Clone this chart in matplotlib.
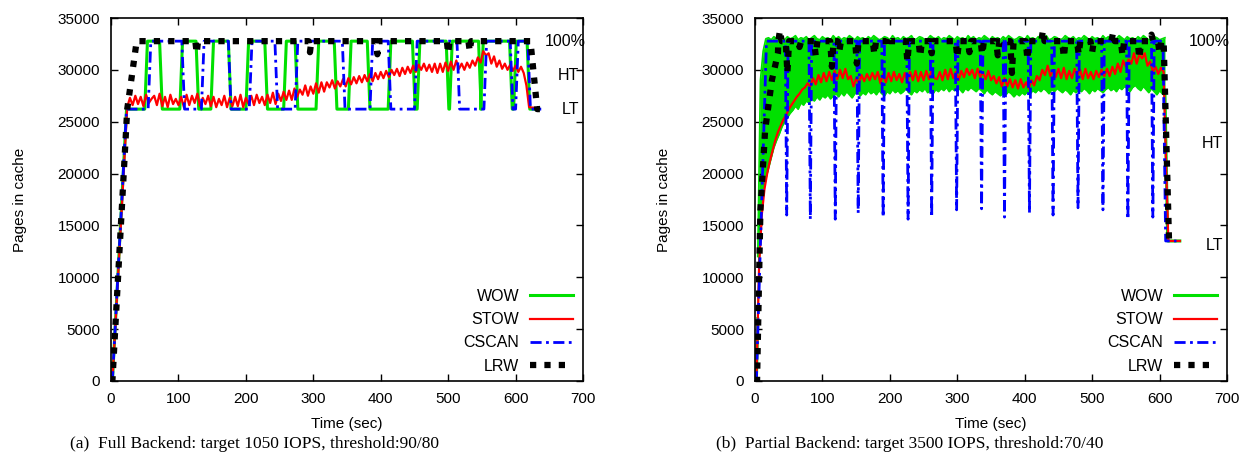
import numpy as np
import matplotlib
matplotlib.use("Agg")
import matplotlib.pyplot as plt

plt.rcParams['font.family'] = ['Liberation Sans', 'DejaVu Sans']

FULL = 32768              # 100% of the cache (pages)
HT_A, LT_A = 29491, 26214  # 90 / 80
HT_B, LT_B = 22938, 13107  # 70 / 40

# ---------------- panel (a): full backend ----------------
# WOW / CSCAN are square waves between LT and 100%: (start of high, end of high) in sec
wow_a_up = [50, 102, 148, 200, 256, 304, 352, 411, 454, 502, 548, 597]
wow_a_down = [72, 126, 174, 228, 273, 331, 380, 447, 497, 545, 591, 617]
cscan_a_up = [55, 134, 205, 273, 384, 450, 553, 600]
cscan_a_down = [105, 174, 243, 343, 411, 513, 592, 618]

# STOW, hundreds of pages, every 4 s from t=24
stow_a_t0, stow_a_dt = 24, 4
stow_a = [264, 273, 266, 275, 267, 274, 265, 276, 268, 272,
          275, 266, 277, 265, 274, 264, 276, 267, 272, 266,
          274, 264, 276, 266, 275, 268, 277, 265, 273, 267,
          275, 265, 274, 264, 272, 266, 275, 264, 273, 265,
          274, 265, 276, 264, 273, 267, 275, 266, 276, 268,
          274, 266, 276, 268, 278, 267, 277, 270, 279, 271,
          280, 271, 282, 274, 281, 276, 285, 275, 284, 277,
          287, 278, 288, 279, 288, 283, 290, 282, 289, 284,
          291, 284, 292, 286, 293, 287, 294, 288, 295, 289,
          296, 289, 297, 291, 298, 292, 299, 293, 300, 295,
          301, 294, 302, 296, 303, 297, 304, 298, 305, 300,
          306, 299, 305, 298, 306, 297, 306, 298, 307, 299,
          308, 300, 309, 301, 306, 300, 307, 302, 309, 304,
          312, 307, 318, 314, 316, 306, 313, 303, 309, 301,
          306, 300, 305, 299, 304, 298, 303, 297, 285, 264]

# LRW: ramp then flat at 100% with a few short dips
lrw_a_t = [0, 2, 24, 38, 622, 632, 636]
lrw_a_v = [0, 0, 26214, 32768, 32768, 26214, 26214]
lrw_a_dip_t = [127, 295, 395, 500, 532]
lrw_a_dip_v = [31600, 31700, 31500, 31600, 31800]

# ---------------- panel (b): partial backend ----------------
# STOW, hundreds, every 4 s from t=2
stow_b_t0, stow_b_dt = 2, 4
stow_b = [0, 110, 160, 185, 200, 212, 222, 232, 240, 246,
          252, 256, 262, 266, 270, 274, 277, 281, 283, 287,
          284, 292, 286, 295, 288, 297, 289, 298, 290, 299,
          291, 300, 292, 301, 291, 294, 284, 292, 287, 295,
          289, 296, 290, 297, 291, 298, 287, 296, 288, 297,
          289, 298, 290, 296, 288, 297, 289, 298, 290, 299,
          289, 298, 290, 299, 291, 300, 292, 291, 298, 290,
          300, 291, 301, 292, 298, 290, 299, 293, 301, 295,
          300, 292, 301, 293, 298, 291, 299, 290, 294, 287,
          293, 284, 292, 284, 291, 283, 290, 282, 291, 283,
          288, 282, 290, 285, 294, 290, 300, 295, 304, 294,
          300, 293, 301, 292, 302, 291, 299, 292, 301, 294,
          300, 291, 301, 292, 298, 291, 299, 293, 300, 294,
          301, 294, 303, 296, 306, 298, 309, 303, 310, 306,
          316, 306, 315, 311, 316, 304, 308, 298, 303, 296,
          302, 298]
stow_b_tail_t = [610, 613, 630]
stow_b_tail_v = [20000, 13500, 13500]

# WOW: dense band, lower / upper envelope (hundreds), every 4 s from t=4
wow_b_t0, wow_b_dt = 4, 4
wow_b_low = [60, 150, 180, 195, 205, 215, 225, 232, 238, 245,
             250, 254, 258, 261, 265, 262, 268, 266, 270, 268,
             272, 270, 274, 271, 275, 273, 276, 272, 275, 277,
             274, 278, 275, 279, 276, 273, 277, 279, 275, 278,
             276, 280, 277, 279, 276, 280, 277, 275, 279, 277,
             281, 278, 280, 277, 279, 282, 278, 276, 280, 278,
             281, 279, 282, 278, 280, 277, 281, 279, 282, 280,
             283, 279, 282, 280, 283, 281, 278, 282, 280, 283,
             281, 279, 282, 280, 277, 281, 278, 276, 279, 277,
             275, 278, 276, 279, 277, 274, 277, 275, 278, 276,
             279, 277, 280, 278, 281, 279, 282, 280, 277, 281,
             279, 282, 280, 278, 281, 279, 276, 280, 278, 281,
             279, 282, 280, 277, 281, 279, 282, 280, 278, 281,
             283, 280, 282, 279, 283, 281, 284, 282, 279, 283,
             285, 282, 280, 284, 281, 278, 282, 279, 276, 280,
             277, 275]
wow_b_high = [120, 290, 318, 330, 331, 329, 332, 330, 333, 331,
              329, 332, 330, 331, 333, 329, 331, 330, 332, 329,
              331, 333, 330, 329, 332, 330, 331, 329, 333, 330,
              332, 329, 331, 330, 333, 331, 329, 332, 330, 331,
              329, 332, 330, 333, 331, 329, 330, 332, 331, 329,
              333, 330, 331, 329, 332, 330, 331, 333, 329, 330,
              332, 331, 329, 330, 333, 331, 330, 332, 329, 331,
              330, 333, 331, 329, 332, 330, 331, 329, 333, 330,
              332, 329, 331, 330, 333, 331, 329, 332, 330, 331,
              329, 332, 330, 333, 331, 329, 330, 332, 331, 329,
              333, 330, 331, 329, 332, 330, 331, 333, 329, 330,
              332, 331, 329, 330, 333, 331, 330, 332, 329, 331,
              330, 333, 331, 329, 332, 330, 331, 329, 333, 330,
              332, 329, 331, 330, 333, 331, 329, 332, 330, 331,
              329, 332, 330, 333, 331, 329, 330, 332, 331, 329,
              330, 331]
wow_b_tail_t = [608, 612, 630]
wow_b_tail_v = [27500, 13500, 13500]

# CSCAN: sits at 100%, deep periodic dips
cscan_b_t = [0, 2, 17, 605, 609, 625]
cscan_b_v = [0, 0, 32768, 32768, 13500, 13500]
cscan_b_dip_t = [47, 82, 119, 153, 190, 227, 262, 299, 336, 370, 407, 442, 479, 516, 553, 590]
cscan_b_dip_v = [16000, 15600, 15600, 16200, 15800, 15600, 15800, 16500,
                 16600, 15800, 16200, 16000, 16700, 16500, 15600, 15800]

# LRW: ramp, 100% with spikes, drop to LT
lrw_b_t = [0, 3, 8, 15, 25, 34, 40, 606, 614, 620]
lrw_b_v = [0, 0, 16500, 24200, 29000, 31600, 32768, 32768, 13500, 13500]
lrw_b_spike_t = [37, 48, 66, 90, 114, 125, 151, 177, 197, 226, 245, 262, 300, 318, 337,
                 360, 381, 404, 427, 458, 480, 500, 531, 545, 570, 588, 600]
lrw_b_spike_v = [33800, 29700, 32200, 31400, 30300, 31800, 30600, 31500, 33300, 30800,
                 31300, 31600, 31200, 31700, 31500, 31400, 29700, 31000, 33800, 31200,
                 31500, 31700, 33600, 31400, 31100, 33400, 31600]

GREEN = '#00e000'
RED = '#ff0000'
BLUE = '#0000ff'
BLACK = '#000000'


def square(up, down, lo, hi, t_end, ramp=4):
    t = [0, 2, 23]
    v = [0, 0, lo]
    for u, d in zip(up, down):
        t += [u, u + ramp, d, d + ramp]
        v += [lo, hi, hi, lo]
    t.append(t_end)
    v.append(lo)
    return t, v


def with_spikes(base_t, base_v, sp_t, sp_v, half=2):
    pts = list(zip(base_t, base_v))
    for st, sv in zip(sp_t, sp_v):
        pts += [(st - half, FULL), (st, sv), (st + half, FULL)]
    pts.sort(key=lambda p: p[0])
    return [p[0] for p in pts], [p[1] for p in pts]


def series(t0, dt, vals, scale=100):
    t = [t0 + i * dt for i in range(len(vals))]
    return t, [x * scale for x in vals]


def style_axes(ax, levels):
    ax.set_xlim(0, 700)
    ax.set_ylim(0, 35000)
    ax.set_xticks(range(0, 701, 100))
    ax.set_yticks(range(0, 35001, 5000))
    ax.tick_params(direction='in', top=True, right=True, length=5, width=1,
                   labelsize=11, pad=8)
    for s in ax.spines.values():
        s.set_linewidth(1.2)
    ax.set_xlabel('Time (sec)', fontsize=11, labelpad=8)
    ax.set_ylabel('Pages in cache', fontsize=11, labelpad=22)
    for txt, x, y in zip(['100%', 'HT', 'LT'], [673, 678, 681], levels):
        ax.text(x, y, txt, fontsize=11.5, ha='center', va='center')
    leg = ax.legend(loc='lower right', frameon=False, markerfirst=False,
                    fontsize=11.5, handlelength=2.7, labelspacing=0.52,
                    borderaxespad=0.05, handletextpad=0.7,
                    bbox_to_anchor=(0.995, 0.0))
    return leg


def draw(ax, wow, stow, cscan, lrw, band=None):
    kw_w = dict(color=GREEN, lw=2.2, label='WOW')
    if band is None:
        ax.plot(*wow, **kw_w)
    else:
        bt, lo, hi = band
        ax.fill_between(bt, lo, hi, color=GREEN, lw=0)
        ax.plot(bt, hi, color=GREEN, lw=1.2)
        ax.plot(bt, lo, color=GREEN, lw=1.2)
        ax.plot(*wow, **kw_w)
    ax.plot(*stow, color=RED, lw=1.6, label='STOW')
    ax.plot(*cscan, color=BLUE, lw=2.0, ls=(0, (4, 1.6, 1, 1.6)), label='CSCAN')
    ax.plot(*lrw, color=BLACK, lw=4.5, ls=(0, (1, 1.3)), label='LRW',
            solid_capstyle='butt', dash_capstyle='butt')


fig = plt.figure(figsize=(12.59, 4.70), dpi=100)
ax_a = fig.add_axes([0.0882, 0.1894, 0.3749, 0.7723])
ax_b = fig.add_axes([0.5997, 0.1894, 0.3749, 0.7723])

# (a)
wow_a = square(wow_a_up, wow_a_down, LT_A, FULL, 634)
cscan_a = square(cscan_a_up, cscan_a_down, LT_A, FULL, 638)
st_t, st_v = series(stow_a_t0, stow_a_dt, stow_a)
stow_a_line = ([0, 2] + st_t + [632], [0, 0] + st_v + [26300])
lrw_a = with_spikes(lrw_a_t, lrw_a_v, lrw_a_dip_t, lrw_a_dip_v, half=2)
draw(ax_a, wow_a, stow_a_line, cscan_a, lrw_a)
style_axes(ax_a, [FULL, HT_A, LT_A])

# (b)
sb_t, sb_v = series(stow_b_t0, stow_b_dt, stow_b)
stow_b_line = ([0] + sb_t + stow_b_tail_t, [0] + sb_v + stow_b_tail_v)
wb_t, wb_lo = series(wow_b_t0, wow_b_dt, wow_b_low)
_, wb_hi = series(wow_b_t0, wow_b_dt, wow_b_high)
wow_b_start = ([0, 2, 4], [0, 0, 6000])
wow_b_end = ([wb_t[-1]] + wow_b_tail_t, [wb_lo[-1]] + wow_b_tail_v)
cscan_b = with_spikes(cscan_b_t, cscan_b_v, cscan_b_dip_t, cscan_b_dip_v, half=2)
lrw_b = with_spikes(lrw_b_t, lrw_b_v, lrw_b_spike_t, lrw_b_spike_v, half=2.5)
draw(ax_b, wow_b_start, stow_b_line, cscan_b, lrw_b, band=(wb_t, wb_lo, wb_hi))
ax_b.plot(*wow_b_end, color=GREEN, lw=2.2, zorder=1.5)
style_axes(ax_b, [FULL, HT_B, LT_B])

fig.text(0.2025, 0.055, '(a)  Full Backend: target 1050 IOPS, threshold:90/80',
         ha='center', va='center', fontsize=12.5, family='Liberation Serif')
fig.text(0.7225, 0.055, '(b)  Partial Backend: target 3500 IOPS, threshold:70/40',
         ha='center', va='center', fontsize=12.5, family='Liberation Serif')

fig.savefig('out.png', dpi=100)
